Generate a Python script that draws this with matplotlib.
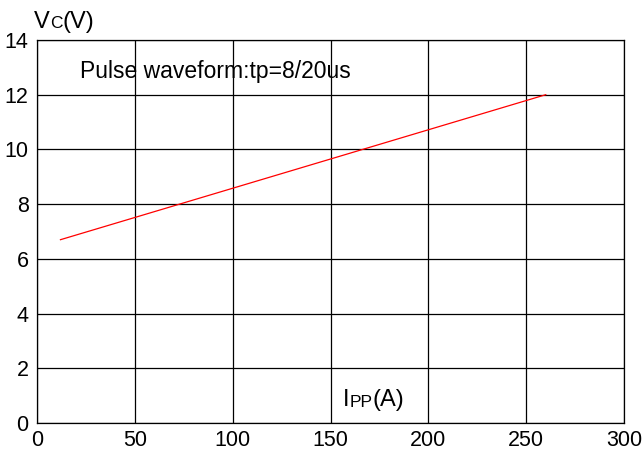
import matplotlib
matplotlib.use('Agg')
from matplotlib import pyplot as plt

# data
ipp = [12, 260]
vc = [6.7, 12.0]
x_ticks = [0, 50, 100, 150, 200, 250, 300]
y_ticks = [0, 2, 4, 6, 8, 10, 12, 14]

plt.rcParams['font.family'] = ['Liberation Sans', 'DejaVu Sans']

fig = plt.figure(figsize=(6.42, 4.57), dpi=100)
ax = fig.add_axes([0.0576, 0.0744, 0.9144, 0.8381])

ax.plot(ipp, vc, color='red', lw=0.9)

ax.set_xlim(0, 300)
ax.set_ylim(0, 14)
ax.set_xticks(x_ticks)
ax.set_yticks(y_ticks)
ax.tick_params(length=0, labelsize=15.5)
ax.tick_params(axis='y', pad=6)
ax.tick_params(axis='x', pad=5)
ax.grid(True, color='black', lw=0.9)
for s in ax.spines.values():
    s.set_linewidth(0.9)

DESC = 0.212  # descent of Liberation Sans, in em


def label(parts, x, y):
    # draw a label made of normal and small letters on one baseline
    prev = ax.text(x, y, parts[0][0], fontsize=parts[0][1], va='baseline',
                   transform=ax.transData, clip_on=False)
    prev_size = parts[0][1]
    for txt, size in parts[1:]:
        prev = ax.annotate(txt, xy=(1, 0), xycoords=prev, fontsize=size,
                           xytext=(0, (prev_size - size) * DESC),
                           textcoords='offset points',
                           va='bottom', annotation_clip=False)
        prev_size = size
    return prev


label([('V', 17), ('C', 12.5), ('(V)', 17)], -1.5, 14.45)
label([('I', 17), ('PP', 12.5), ('(A)', 17)], 156.4, 0.62)
ax.text(22, 12.61, 'Pulse waveform:tp=8/20us', fontsize=16.5, va='baseline')

fig.savefig('out.png', dpi=100)
